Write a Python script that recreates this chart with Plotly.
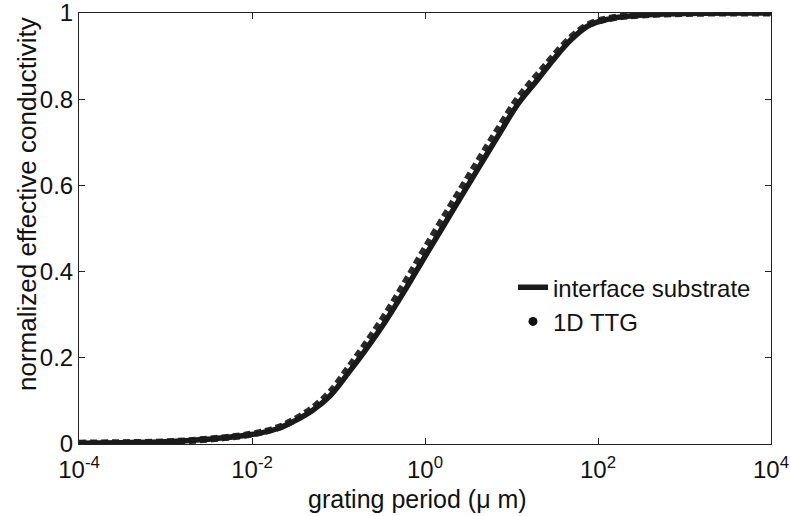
import plotly.graph_objects as go

# grating period (um)
period = [1e-4, 3e-4, 1e-3, 3e-3, 1e-2, 2e-2, 3e-2, 5e-2, 8e-2, 0.13, 0.2, 0.35, 0.6,
          1, 2, 4, 7, 12, 20, 30, 50, 80, 150, 300, 1000, 1e4]
# interface substrate (solid)
k_interface = [0.002, 0.003, 0.005, 0.011, 0.022, 0.036, 0.052, 0.078, 0.112, 0.165, 0.215,
               0.285, 0.36, 0.435, 0.535, 0.635, 0.715, 0.79, 0.845, 0.89, 0.94, 0.972,
               0.988, 0.995, 0.999, 1.0]
# 1D TTG
k_ttg = [0.002, 0.003, 0.005, 0.011, 0.023, 0.038, 0.055, 0.083, 0.12, 0.176, 0.228,
         0.30, 0.377, 0.453, 0.553, 0.652, 0.73, 0.803, 0.856, 0.898, 0.945, 0.974,
         0.989, 0.995, 0.999, 1.0]

xtick_vals = [1e-4, 1e-2, 1, 1e2, 1e4]
xtick_text = ["10<sup>-4</sup>", "10<sup>-2</sup>", "10<sup>0</sup>", "10<sup>2</sup>", "10<sup>4</sup>"]
ytick_vals = [0, 0.2, 0.4, 0.6, 0.8, 1]
ytick_text = ["0", "0.2", "0.4", "0.6", "0.8", "1"]

FONT = "Liberation Sans, Arial, Helvetica, sans-serif"

fig = go.Figure()
fig.add_trace(go.Scatter(x=period, y=k_ttg, mode="lines", showlegend=False,
                         line=dict(color="#2a2a2a", width=7, dash="7px,4px", shape="spline")))
fig.add_trace(go.Scatter(x=period, y=k_interface, mode="lines", name="interface substrate",
                         line=dict(color="#1a1a1a", width=5.5, shape="spline")))
fig.add_trace(go.Scatter(x=[None], y=[None], mode="markers", name="1D TTG",
                         marker=dict(color="#111111", size=9)))

W, H = 791, 516
L, R, T, B = 79, 20, 13, 72
pw, ph = W - L - R, H - T - B

fig.update_layout(
    width=W, height=H,
    margin=dict(l=L, r=R, t=T, b=B),
    paper_bgcolor="white", plot_bgcolor="white",
    font=dict(family=FONT, size=24, color="#111111"),
    legend=dict(x=(513 - L) / pw, y=0.415, xanchor="left", yanchor="top",
                bgcolor="rgba(0,0,0,0)", font=dict(size=24), tracegroupgap=0),
    xaxis=dict(type="log", range=[-4, 4], tickvals=xtick_vals, ticktext=xtick_text,
               ticks="inside", ticklen=6, tickcolor="#222", showline=True, linecolor="#222",
               linewidth=1, mirror="ticks", showgrid=False, zeroline=False,
               automargin=False, ticklabelstandoff=4, ticklabeloverflow="allow"),
    yaxis=dict(range=[0, 1], tickvals=ytick_vals, ticktext=ytick_text,
               ticks="inside", ticklen=6, tickcolor="#222", showline=True, linecolor="#222",
               linewidth=1, mirror="ticks", showgrid=False, zeroline=False,
               automargin=False, ticklabeloverflow="allow"),
    annotations=[
        dict(text="normalized effective conductivity", textangle=-90,
             xref="paper", yref="paper", x=(27 - L) / pw, y=1 - (204 - T) / ph,
             xanchor="center", yanchor="middle", showarrow=False,
             font=dict(size=26, family=FONT, color="#111111")),
        dict(text="grating period (\u03bc m)",
             xref="paper", yref="paper", x=(417 - L) / pw, y=1 - (499 - T) / ph,
             xanchor="center", yanchor="middle", showarrow=False,
             font=dict(size=25, family=FONT, color="#111111")),
    ],
)

fig.write_html("out.html")
